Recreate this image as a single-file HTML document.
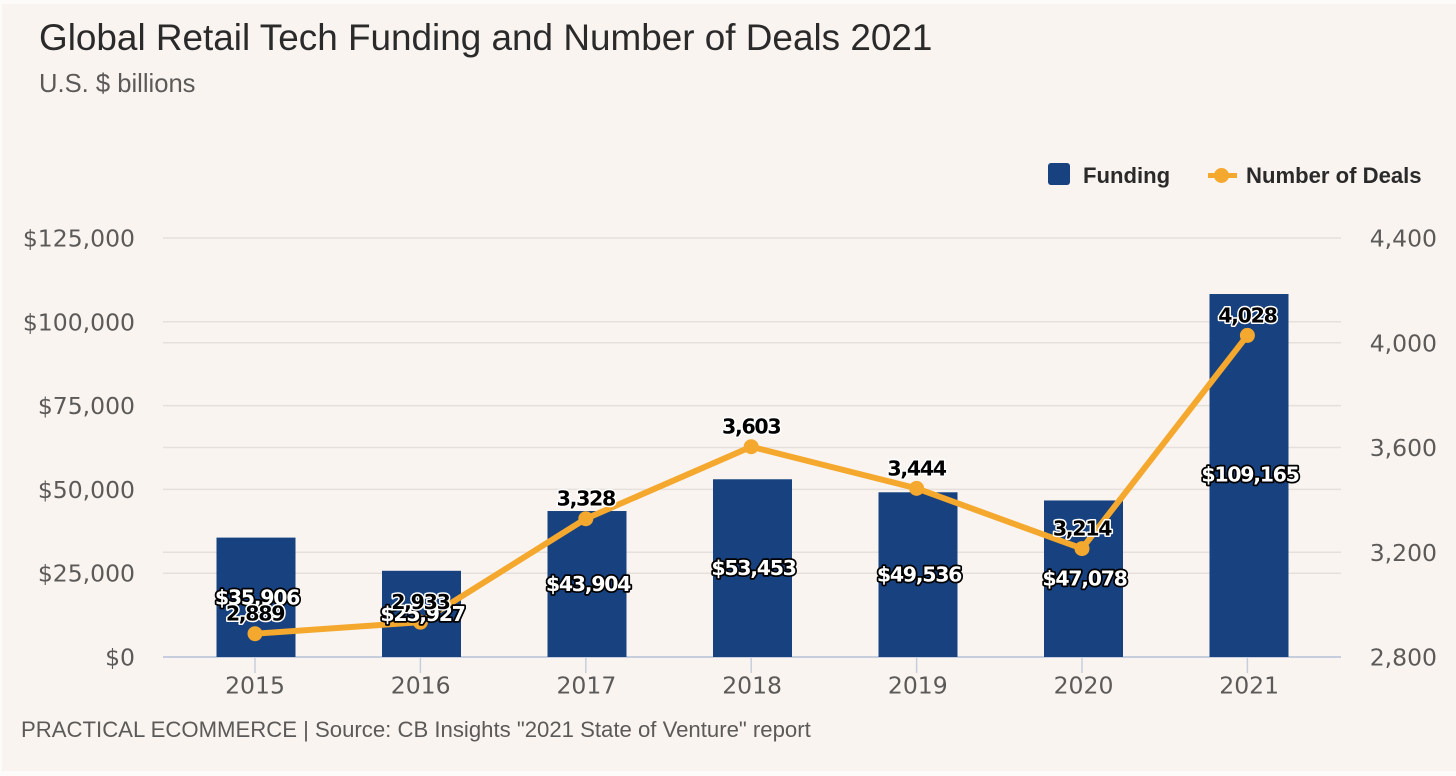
<!DOCTYPE html>
<html lang="en">
<head>
<meta charset="utf-8">
<title>Global Retail Tech Funding and Number of Deals 2021</title>
<style>
  html, body { margin: 0; padding: 0; width: 1456px; height: 776px; overflow: hidden; background: #fdfbfa; }
  svg { display: block; position: absolute; left: 0; top: 0; }
  text { font-family: "Liberation Sans", sans-serif; }
  .tick { font-family: "DejaVu Sans", sans-serif; font-size: 23.5px; fill: #5c5a59; }
  .val { font-family: "DejaVu Sans", sans-serif; font-size: 20.5px; font-weight: 700; letter-spacing: -1.3px; text-anchor: middle; paint-order: stroke; stroke-linejoin: round; }
</style>
</head>
<body>
<svg id="chart" width="1456" height="776" viewBox="0 0 1456 776" xmlns="http://www.w3.org/2000/svg">
  <rect x="2" y="4" width="1454" height="767" fill="#f9f4f0"/>
  <text x="39" y="50" font-size="36.9" fill="#2b2a2a">Global Retail Tech Funding and Number of Deals 2021</text>
  <text x="39" y="92" font-size="25.6" fill="#5c5a59">U.S. $ billions</text>
  <g>
    <g>
      <rect x="1048" y="163" width="22" height="22" rx="3" fill="#17427f"/>
      <text x="1083" y="183" font-size="22.1" font-weight="700" fill="#2b2a2a">Funding</text>
    </g>
    <g>
      <line x1="1208" y1="175.5" x2="1237" y2="175.5" stroke="#f5a82e" stroke-width="5"/>
      <circle cx="1221.5" cy="175.5" r="7.5" fill="#f5a82e"/>
      <text x="1246" y="183" font-size="22.1" font-weight="700" fill="#2b2a2a">Number of Deals</text>
    </g>
  </g>
  <g id="grid"></g>
  <g id="axes"></g>
  <g id="bars"></g>
  <g id="line"></g>
  <g id="labels"></g>
  <text x="21" y="737" font-size="22.15" fill="#5c5a59">PRACTICAL ECOMMERCE | Source: CB Insights "2021 State of Venture" report</text>
</svg>
<script>
var years = ['2015', '2016', '2017', '2018', '2019', '2020', '2021'];
var funding = [35906, 25927, 43904, 53453, 49536, 47078, 109165];
var deals = [2889, 2933, 3328, 3603, 3444, 3214, 4028];
var leftTicks = [0, 25000, 50000, 75000, 100000, 125000];
var rightTicks = [2800, 3200, 3600, 4000, 4400];

var NS = 'http://www.w3.org/2000/svg';
var plotBottom = 657, plotTop = 238, plotLeft = 163, plotRight = 1341;
var barWidth = 79, barScale = 0.003325;

function xAxis(i) { return 255 + 165.4 * i; }
function xBar(i) { return 256 + 165.5 * i; }
function xLabel(i) { return 255 + 165.7 * i; }
function yLeft(v) { return plotBottom - (v - leftTicks[0]) / (leftTicks[leftTicks.length - 1] - leftTicks[0]) * (plotBottom - plotTop); }
function yBar(v) { return plotBottom - v * barScale; }
function yRight(v) { return plotBottom - (v - rightTicks[0]) / (rightTicks[rightTicks.length - 1] - rightTicks[0]) * (plotBottom - plotTop); }
function make(tag, attrs, parent) {
  var el = document.createElementNS(NS, tag);
  for (var k in attrs) el.setAttribute(k, attrs[k]);
  document.getElementById(parent).appendChild(el);
  return el;
}
function fmt(v) { return String(v).replace(/\B(?=(\d{3})+$)/g, ','); }

leftTicks.forEach(function (t) {
  var y = yLeft(t);
  var isBase = t === leftTicks[0];
  var g = make('line', { x1: plotLeft, x2: plotRight, y1: y, y2: y, stroke: isBase ? '#c6cede' : '#e6e0dc', 'stroke-width': isBase ? 2 : 1.5 }, 'grid');
  
  
  var l = make('text', { x: 135, y: y + 8.5, 'text-anchor': 'end', 'class': 'tick' }, 'axes');
  
  
  l.textContent = '$' + fmt(t);
});
rightTicks.forEach(function (t) {
  var y = yRight(t);
  if (t !== rightTicks[0] && t !== rightTicks[rightTicks.length - 1]) {
    var g = make('line', { x1: plotLeft, x2: plotRight, y1: y, y2: y, stroke: '#e6e0dc', 'stroke-width': 1.5 }, 'grid');
    
    
  }
  var l = make('text', { x: 1437, y: y + 8.5, 'text-anchor': 'end', 'class': 'tick' }, 'axes');
  
  
  l.textContent = fmt(t);
});
years.forEach(function (yr, i) {
  var x = xAxis(i);
  var tk = make('line', { x1: x, x2: x, y1: plotBottom, y2: 673, stroke: '#c6cede', 'stroke-width': 1.5 }, 'axes');
  
  
  var l = make('text', { x: xLabel(i), y: 693.5, 'text-anchor': 'middle', 'class': 'tick' }, 'axes');
  
  
  l.textContent = yr;

  var top = yBar(funding[i]);
  var b = make('rect', { x: xBar(i) - barWidth / 2, y: top, width: barWidth, height: plotBottom - top, fill: '#17427f' }, 'bars');
  
  
});

var pts = deals.map(function (d, i) { return xAxis(i) + ',' + yRight(d); }).join(' ');
var pl = make('polyline', { points: pts, fill: 'none', stroke: '#f5a82e', 'stroke-width': 6, 'stroke-linejoin': 'round' }, 'line');


deals.forEach(function (d, i) {
  var c = make('circle', { cx: xAxis(i), cy: yRight(d), r: 7.5, fill: '#f5a82e' }, 'line');
  
  
});
funding.forEach(function (v, i) {
  var t = make('text', { x: xBar(i) + 1, y: (yLeft(v) + plotBottom) / 2 + 7.5, 'class': 'val', fill: '#ffffff', stroke: '#000000', 'stroke-width': 3.5 }, 'labels');
  
  
  t.textContent = '$' + fmt(v);
});
deals.forEach(function (v, i) {
  var t = make('text', { x: xAxis(i), y: yRight(v) - 13, 'class': 'val', fill: '#000000', stroke: '#ffffff', 'stroke-width': 3 }, 'labels');
  
  
  t.textContent = fmt(v);
});
</script>
</body>
</html>
